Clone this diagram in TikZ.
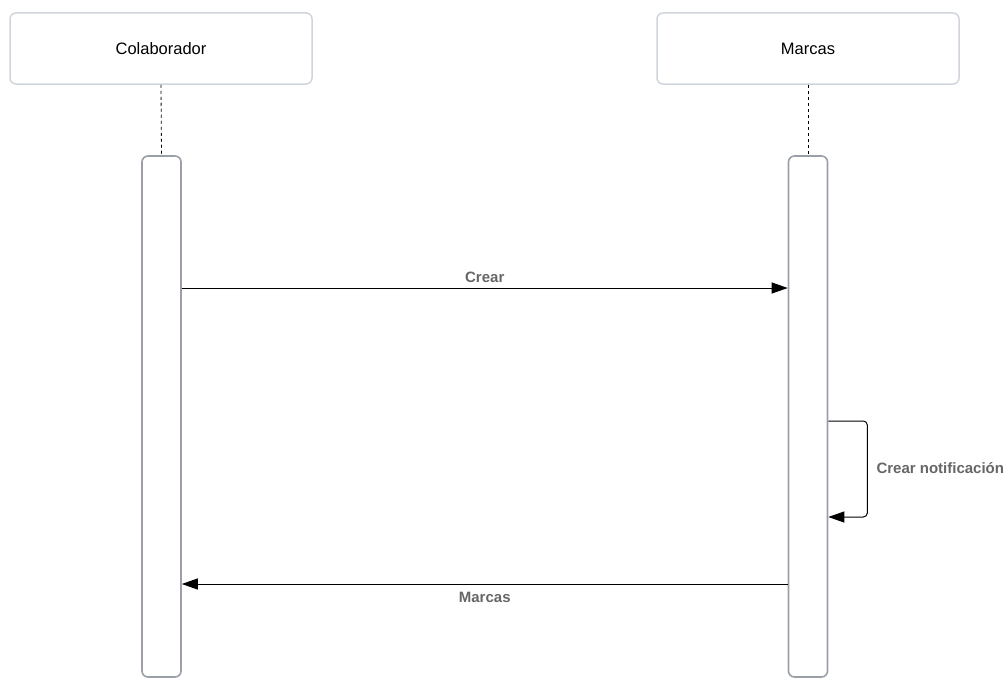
\documentclass[tikz,border=0pt]{standalone}
\usepackage{fontspec}
\setmainfont{Liberation Sans}
\usetikzlibrary{arrows.meta}

\definecolor{headline}{HTML}{D0D5DD}
\definecolor{barline}{HTML}{9A9FA8}
\definecolor{msgtext}{HTML}{666666}

\tikzset{
  actor/.style={draw=headline, line width=1.5pt, rounded corners=6pt, fill=white,
    minimum width=302pt, minimum height=71pt, font=\fontsize{16.5}{19}\selectfont},
  activation/.style={draw=barline, line width=1.6pt, rounded corners=6pt, fill=white,
    minimum width=39pt, minimum height=521pt, inner sep=0pt},
  msg/.style={line width=1pt, -{Triangle[length=16pt,width=11pt]}},
  msglabel/.style={text=msgtext, font=\bfseries\fontsize{15}{17}\selectfont}
}

\begin{document}
\begin{tikzpicture}[x=1pt, y=-1pt]
    \useasboundingbox (0, 0) rectangle (1008, 677);

    \node[actor] (colaborador) at (161, 48.5) {Colaborador};
    \node[actor] (marcas)      at (808, 48.5) {Marcas};

    \node[activation] (colbar)   at (161.5, 416.5) {};
    \node[activation] (marcabar) at (808, 416.5) {};

    \draw[dashed, line width=0.8pt] (colaborador.south) -- (colbar.north);
    \draw[dashed, line width=0.8pt] (marcas.south) -- (marcabar.north);

    \coordinate (crearfrom) at (colbar.east |- 0, 288);
    \coordinate (crearto)   at (marcabar.west |- 0, 288);
    \coordinate (loopfrom)  at (marcabar.east |- 0, 421);
    \coordinate (loopto)    at (marcabar.east |- 0, 517);
    \coordinate (backfrom)  at (marcabar.west |- 0, 584);
    \coordinate (backto)    at (colbar.east |- 0, 584);

    \draw[msg] (crearfrom) -- (crearto) node[msglabel, above=2pt, pos=0.5]{Crear};
    \draw[msg, rounded corners=4pt] (loopfrom) -- ++(39, 0) -- ++(0, 96) -- (loopto);
    \node[msglabel, anchor=west] (notif) at (873, 468) {Crear notificación};
    \draw[msg] (backfrom) -- (backto) node[msglabel, below=4pt, pos=0.5]{Marcas};
\end{tikzpicture}
\end{document}
